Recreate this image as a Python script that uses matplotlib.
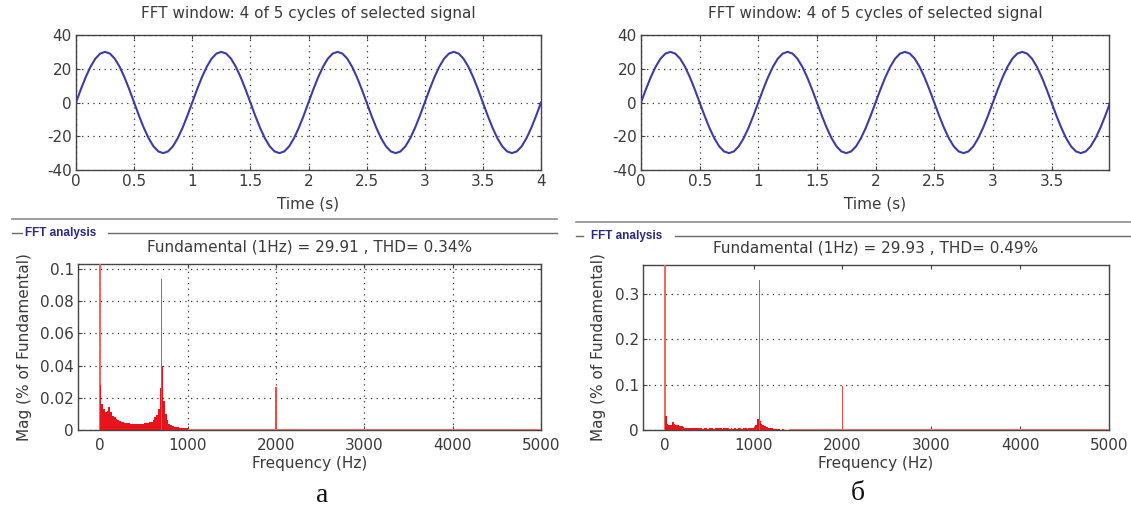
import numpy as np
import matplotlib
matplotlib.use("Agg")
import matplotlib.pyplot as plt
from matplotlib.lines import Line2D

# ---------------- data ----------------
# one cycle of the 1 Hz, ~30 A signal sampled every 1/24 s (read from the plot)
wave_cycle = [0.0, 7.8, 15.0, 21.2, 26.0, 29.0, 30.0, 29.0, 26.0, 21.2, 15.0, 7.8,
              0.0, -7.8, -15.0, -21.2, -26.0, -29.0, -30.0, -29.0, -26.0, -21.2, -15.0, -7.8]
time_step = 1.0 / 24
signal_vals = wave_cycle * 4 + [0.0]
time_vals = [i * time_step for i in range(len(signal_vals))]

time_ticks_a = [0, 0.5, 1, 1.5, 2, 2.5, 3, 3.5, 4]
time_ticks_b = [0, 0.5, 1, 1.5, 2, 2.5, 3, 3.5]
signal_ticks = [-40, -20, 0, 20, 40]
freq_ticks = [0, 1000, 2000, 3000, 4000, 5000]

# --- spectrum a ---
fund_a = 100.0
band_a_freq = [10, 30, 50, 70, 90, 110, 130, 150, 170, 190, 210, 230, 250, 270, 290,
               310, 330, 350, 370, 390, 410, 430, 450, 470, 490, 510, 530, 550, 570, 590,
               610, 630, 650, 670, 690, 710, 730, 750, 770, 790, 810, 830, 850, 870, 890,
               910, 930, 950, 970, 990]
band_a_mag = [0.028, 0.016, 0.013, 0.011, 0.012, 0.014, 0.011, 0.009, 0.008, 0.007,
              0.0062, 0.0058, 0.0052, 0.005, 0.0046, 0.0045, 0.0042, 0.004, 0.0039, 0.0036,
              0.0036, 0.0039, 0.004, 0.0036, 0.004, 0.0042, 0.0045, 0.0046, 0.005, 0.0052,
              0.0065, 0.008, 0.0095, 0.013, 0.026, 0.040, 0.018, 0.010, 0.006, 0.004,
              0.003, 0.0025, 0.002, 0.0018, 0.0016, 0.0015, 0.0014, 0.0013, 0.0012, 0.001]
spike_a_freq = [700, 2000]
spike_a_mag = [0.094, 0.027]
floor_a_freq = [1100, 1300, 1500, 1700, 1900, 2100, 2300, 2500, 2700, 2900,
                3100, 3300, 3500, 3700, 3900, 4100, 4300, 4500, 4700, 4900]
floor_a_mag = [0.0007, 0.0007, 0.0006, 0.0006, 0.0006, 0.0006, 0.0006, 0.0006, 0.0006, 0.0006,
               0.0006, 0.0006, 0.0006, 0.0006, 0.0006, 0.0006, 0.0006, 0.0006, 0.0006, 0.0006]
mag_ticks_a = [0, 0.02, 0.04, 0.06, 0.08, 0.1]
mag_labels_a = ["0", "0.02", "0.04", "0.06", "0.08", "0.1"]

# --- spectrum b ---
fund_b = 100.0
band_b_freq = [10, 30, 50, 70, 90, 110, 130, 150, 170, 190, 210, 230, 250, 270, 290,
               310, 330, 350, 370, 390, 410, 430, 450, 470, 490, 510, 530, 550, 570, 590,
               610, 630, 650, 670, 690, 710, 730, 750, 770, 790, 810, 830, 850, 870, 890,
               910, 930, 950, 970, 990, 1010, 1030, 1050, 1070, 1090, 1110, 1130, 1150,
               1170, 1190, 1210, 1230, 1250, 1270, 1290, 1310, 1330, 1350]
band_b_mag = [0.030, 0.013, 0.010, 0.012, 0.018, 0.014, 0.011, 0.010, 0.009, 0.008,
              0.007, 0.005, 0.0045, 0.004, 0.004, 0.004, 0.0035, 0.0035, 0.0035, 0.0035,
              0.0035, 0.003, 0.0035, 0.0035, 0.003, 0.0035, 0.0035, 0.003, 0.0035, 0.0035,
              0.0035, 0.0035, 0.003, 0.0035, 0.0035, 0.0035, 0.003, 0.0035, 0.003, 0.0035,
              0.003, 0.0035, 0.0035, 0.003, 0.0035, 0.004, 0.003, 0.004, 0.005, 0.005,
              0.006, 0.010, 0.025, 0.020, 0.014, 0.010, 0.008, 0.006, 0.005, 0.004,
              0.004, 0.003, 0.003, 0.002, 0.0015, 0.001, 0.0025, 0.001]
spike_b_freq = [1065, 2000]
spike_b_mag = [0.330, 0.096]
floor_b_freq = [1500, 1700, 1900, 2100, 2300, 2500, 2700, 2900, 3100, 3300,
                3500, 3700, 3900, 4100, 4300, 4500, 4700, 4900]
floor_b_mag = [0.002, 0.002, 0.002, 0.002, 0.002, 0.002, 0.002, 0.002, 0.002,
               0.002, 0.002, 0.002, 0.002, 0.002, 0.002, 0.002, 0.002, 0.002]
mag_ticks_b = [0, 0.1, 0.2, 0.3]
mag_labels_b = ["0", "0.1", "0.2", "0.3"]

title_top = "FFT window: 4 of 5 cycles of selected signal"
title_a = "Fundamental (1Hz) = 29.91 , THD= 0.34%"
title_b = "Fundamental (1Hz) = 29.93 , THD= 0.49%"
caption_a = "а"
caption_b = "б"

# ---------------- style ----------------
W, H = 1131, 511
plt.rcParams['font.family'] = ['DejaVu Sans']
plt.rcParams['axes.unicode_minus'] = False
TXT = '#3a3a3a'
FS = 11
SIG = '#3c3ca8'
RED = '#e8141c'
SPIKE = '#ee4a40'
GRID = dict(color='#333333', linestyle=(0, (1, 3.5)), linewidth=0.9)

fig = plt.figure(figsize=(W / 100, H / 100), dpi=100)


def rect(l, t, r, b):
    return [l / W, 1 - b / H, (r - l) / W, (b - t) / H]


def style(ax, gridx=True, xpad=3):
    for s in ax.spines.values():
        s.set_color('#444444')
        s.set_linewidth(1.0)
    ax.tick_params(direction='in', top=True, right=True, length=3, width=0.8,
                   colors='#444444', labelcolor=TXT, labelsize=FS, pad=3)
    ax.tick_params(axis='x', pad=xpad)
    ax.set_axisbelow(False)
    if gridx:
        ax.grid(True, **GRID)
    else:
        ax.yaxis.grid(True, **GRID)
        ax.xaxis.grid(False)


def top_plot(pos, xmax, xticks):
    ax = fig.add_axes(rect(*pos))
    ax.plot(time_vals, signal_vals, color=SIG, linewidth=1.5, zorder=3)
    ax.set_xlim(0, xmax)
    ax.set_ylim(-40, 40)
    ax.set_xticks(xticks)
    ax.set_xticklabels([f"{v:g}" for v in xticks])
    ax.set_yticks(signal_ticks)
    style(ax, True, 3)
    ax.set_title(title_top, fontsize=FS, color=TXT, pad=12)
    ax.set_xlabel("Time (s)", fontsize=FS, color=TXT, labelpad=5)
    return ax


def fft_plot(pos, fund, bf, bm, sf, sm, ff, fm, ylim, yt, yl, title, gridx):
    ax = fig.add_axes(rect(*pos))
    ax.bar([1], [fund], width=22, color='#f06a5a', linewidth=0, zorder=3)
    ax.bar(bf, bm, width=20, color=RED, linewidth=0, zorder=3)
    ax.bar(sf, sm, width=20, color=SPIKE, linewidth=0, zorder=3)
    ax.bar(ff, fm, width=200, color='#f07060', linewidth=0, zorder=3)
    ax.set_xlim(-245, 5000)
    ax.set_ylim(*ylim)
    ax.set_xticks(freq_ticks)
    ax.set_yticks(yt)
    ax.set_yticklabels(yl)
    style(ax, gridx, 6)
    ax.set_title(title, fontsize=FS, color=TXT, pad=9)
    ax.set_xlabel("Frequency (Hz)", fontsize=FS, color=TXT, labelpad=2)
    ax.set_ylabel("Mag (% of Fundamental)", fontsize=FS, color=TXT, labelpad=6)
    return ax


top_plot((76, 35, 541, 170), 4, time_ticks_a)
top_plot((641, 35, 1109, 170), 3.99, time_ticks_b)
fft_plot((78, 264, 541, 430), fund_a, band_a_freq, band_a_mag, spike_a_freq, spike_a_mag,
         floor_a_freq, floor_a_mag, (0, 0.1031), mag_ticks_a, mag_labels_a, title_a, True)
fft_plot((643, 265, 1109, 430), fund_b, band_b_freq, band_b_mag, spike_b_freq, spike_b_mag,
         floor_b_freq, floor_b_mag, (0, 0.364), mag_ticks_b, mag_labels_b, title_b, False)


# panel frames (separator + "FFT analysis" group box lines)
def hline(x0, x1, y, color, lw):
    fig.add_artist(Line2D([x0 / W, x1 / W], [1 - y / H, 1 - y / H], color=color,
                          linewidth=lw, transform=fig.transFigure))


hline(12, 557, 219, '#8c8c8c', 1.2)
hline(12, 22, 233, '#6a6a6a', 1.0)
hline(108, 557, 233, '#6a6a6a', 1.0)
hline(576, 1131, 222, '#8c8c8c', 1.2)
hline(576, 583, 236, '#6a6a6a', 1.0)
hline(675, 1131, 236, '#6a6a6a', 1.0)
fig.text(25 / W, 1 - 233 / H, "FFT analysis", fontsize=8.5, fontweight='bold',
         family='Liberation Sans', color='#2a2a80', va='center', ha='left')
fig.text(591 / W, 1 - 236 / H, "FFT analysis", fontsize=8.5, fontweight='bold',
         family='Liberation Sans', color='#2a2a80', va='center', ha='left')

fig.text(322 / W, 1 - 496 / H, caption_a, fontsize=20, family='Liberation Serif',
         color='#111111', ha='center', va='center')
fig.text(858 / W, 1 - 494 / H, caption_b, fontsize=20, family='Liberation Serif',
         color='#111111', ha='center', va='center')

fig.savefig("out.png", dpi=100)
